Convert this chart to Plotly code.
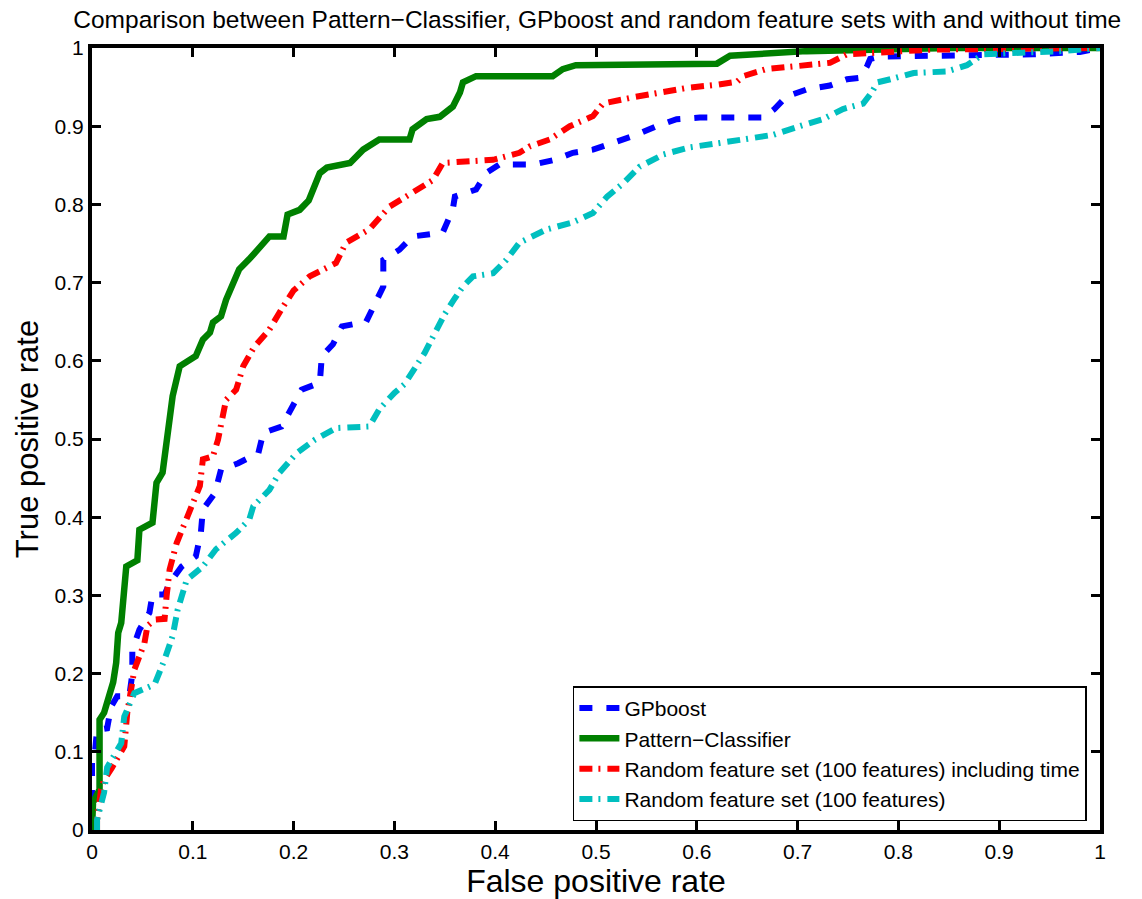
import plotly.graph_objects as go

# ---- data ----
gp_x = [0, 0, 0.003, 0.005, 0.015, 0.019, 0.025, 0.037, 0.04, 0.04, 0.047, 0.057, 0.06, 0.072, 0.077, 0.089,
        0.103, 0.108, 0.11, 0.122, 0.128, 0.145, 0.165, 0.17, 0.188, 0.198, 0.208, 0.226, 0.228, 0.239, 0.248,
        0.272, 0.279, 0.289, 0.289, 0.305, 0.318, 0.348, 0.358, 0.36, 0.381, 0.391, 0.404, 0.438, 0.459, 0.477,
        0.497, 0.52, 0.54, 0.56, 0.58, 0.603, 0.666, 0.677, 0.689, 0.709, 0.732, 0.749, 0.762, 0.769, 0.772,
        0.782, 0.934, 0.98, 1.0]
gp_y = [0, 0.09, 0.10, 0.128, 0.13, 0.158, 0.171, 0.171, 0.2, 0.23, 0.256, 0.278, 0.301, 0.301, 0.316, 0.337,
        0.35, 0.38, 0.41, 0.431, 0.461, 0.469, 0.482, 0.508, 0.516, 0.538, 0.563, 0.572, 0.606, 0.621, 0.644,
        0.65, 0.67, 0.695, 0.729, 0.742, 0.759, 0.764, 0.794, 0.81, 0.819, 0.84, 0.851, 0.851, 0.857, 0.866,
        0.87, 0.88, 0.889, 0.9, 0.909, 0.911, 0.911, 0.922, 0.938, 0.947, 0.952, 0.96, 0.962, 0.977, 0.986,
        0.989, 0.992, 0.995, 1.0]

pc_x = [0, 0.001, 0.0075, 0.0075, 0.012, 0.017, 0.021, 0.024, 0.026, 0.029, 0.032, 0.034, 0.045, 0.047, 0.06,
        0.064, 0.07, 0.074, 0.079, 0.08, 0.087, 0.094, 0.103, 0.11, 0.117, 0.12, 0.128, 0.133, 0.14, 0.146,
        0.156, 0.168, 0.176, 0.19, 0.194, 0.206, 0.215, 0.226, 0.233, 0.256, 0.269, 0.285, 0.315, 0.318, 0.332,
        0.345, 0.358, 0.365, 0.368, 0.381, 0.457, 0.467, 0.48, 0.62, 0.633, 0.709, 0.85, 1.0]
pc_y = [0, 0.035, 0.052, 0.141, 0.15, 0.171, 0.189, 0.214, 0.252, 0.265, 0.312, 0.337, 0.345, 0.384, 0.393,
        0.444, 0.457, 0.496, 0.542, 0.555, 0.593, 0.598, 0.606, 0.627, 0.636, 0.649, 0.657, 0.678, 0.70, 0.717,
        0.73, 0.749, 0.759, 0.759, 0.787, 0.793, 0.805, 0.84, 0.847, 0.853, 0.87, 0.883, 0.883, 0.896, 0.909,
        0.912, 0.925, 0.943, 0.956, 0.964, 0.964, 0.973, 0.978, 0.98, 0.99, 0.996, 1.0, 1.0]

rt_x = [0.005, 0.005, 0.009, 0.012, 0.02, 0.032, 0.035, 0.038, 0.042, 0.052, 0.055, 0.062, 0.072, 0.074, 0.077,
        0.084, 0.094, 0.099, 0.107, 0.11, 0.12, 0.125, 0.13, 0.133, 0.143, 0.15, 0.161, 0.176, 0.188, 0.2,
        0.216, 0.242, 0.252, 0.275, 0.295, 0.318, 0.338, 0.348, 0.398, 0.424, 0.434, 0.454, 0.474, 0.497,
        0.507, 0.537, 0.563, 0.59, 0.62, 0.64, 0.646, 0.669, 0.732, 0.749, 0.834, 1.0]
rt_y = [0, 0.013, 0.052, 0.064, 0.08, 0.107, 0.15, 0.179, 0.205, 0.239, 0.261, 0.269, 0.27, 0.299, 0.333,
        0.367, 0.397, 0.414, 0.44, 0.474, 0.478, 0.499, 0.533, 0.55, 0.563, 0.593, 0.618, 0.64, 0.666, 0.69,
        0.708, 0.725, 0.751, 0.768, 0.797, 0.814, 0.831, 0.853, 0.857, 0.866, 0.874, 0.883, 0.9, 0.913,
        0.929, 0.937, 0.943, 0.949, 0.953, 0.957, 0.964, 0.973, 0.981, 0.992, 0.998, 1.0]

rf_x = [0.005, 0.005, 0.012, 0.015, 0.029, 0.032, 0.042, 0.062, 0.072, 0.08, 0.085, 0.094, 0.11, 0.123, 0.143,
        0.156, 0.16, 0.176, 0.186, 0.203, 0.221, 0.242, 0.275, 0.285, 0.3, 0.31, 0.32, 0.33, 0.34, 0.35, 0.36,
        0.368, 0.378, 0.398, 0.411, 0.424, 0.451, 0.477, 0.497, 0.511, 0.527, 0.543, 0.567, 0.593, 0.62, 0.646,
        0.676, 0.702, 0.725, 0.745, 0.765, 0.774, 0.779, 0.792, 0.815, 0.848, 0.868, 0.884, 0.934, 0.96, 1.0]
rf_y = [0, 0.013, 0.048, 0.08, 0.111, 0.145, 0.175, 0.186, 0.218, 0.248, 0.282, 0.32, 0.337, 0.359, 0.38,
        0.397, 0.414, 0.435, 0.457, 0.482, 0.499, 0.514, 0.516, 0.538, 0.559, 0.57, 0.59, 0.61, 0.635, 0.66,
        0.68, 0.695, 0.708, 0.712, 0.729, 0.751, 0.768, 0.777, 0.789, 0.81, 0.827, 0.848, 0.864, 0.873, 0.878,
        0.883, 0.889, 0.9, 0.909, 0.922, 0.929, 0.944, 0.956, 0.96, 0.968, 0.97, 0.978, 0.992, 0.994, 0.996, 1.0]

tick_vals = [0, 0.1, 0.2, 0.3, 0.4, 0.5, 0.6, 0.7, 0.8, 0.9, 1]
tick_text = ["0", "0.1", "0.2", "0.3", "0.4", "0.5", "0.6", "0.7", "0.8", "0.9", "1"]

FONT = "Liberation Sans, Arial, sans-serif"

fig = go.Figure()
fig.add_trace(go.Scatter(x=gp_x, y=gp_y, mode="lines", name="GPboost",
                         line=dict(color="rgb(0,0,255)", width=6, dash="13px,14px")))
fig.add_trace(go.Scatter(x=pc_x, y=pc_y, mode="lines", name="Pattern\u2212Classifier",
                         line=dict(color="rgb(0,128,0)", width=6.5)))
fig.add_trace(go.Scatter(x=rt_x, y=rt_y, mode="lines",
                         name="Random feature set (100 features) including time",
                         line=dict(color="rgb(255,0,0)", width=6, dash="13px,6px,2px,7px")))
fig.add_trace(go.Scatter(x=rf_x, y=rf_y, mode="lines",
                         name="Random feature set (100 features)",
                         line=dict(color="rgb(0,191,191)", width=6, dash="13px,6px,2px,7px")))

axis_common = dict(range=[0, 1], tickvals=tick_vals, ticktext=tick_text,
                   showgrid=False, zeroline=False, showline=True, linecolor="black",
                   linewidth=4, mirror="ticks", ticks="inside", ticklen=9, tickwidth=3,
                   tickcolor="black", tickfont=dict(family=FONT, size=21, color="black"))

fig.update_layout(
    width=1142, height=899,
    margin=dict(l=92, r=42, t=48, b=69),
    paper_bgcolor="white", plot_bgcolor="white",
    font=dict(family=FONT, color="black"),
    title=dict(text="Comparison between Pattern\u2212Classifier, GPboost and random feature sets with and without time",
               x=0.523, xanchor="center", y=0.978, yanchor="middle", yref="container",
               font=dict(family=FONT, size=24.5, color="black")),
    xaxis=dict(**axis_common,
               title=dict(text="False positive rate", font=dict(family=FONT, size=32), standoff=2)),
    yaxis=dict(**axis_common,
               title=dict(text="True positive rate", font=dict(family=FONT, size=31), standoff=8)),
    legend=dict(x=0.987, y=0.011, xanchor="right", yanchor="bottom",
                bgcolor="white", bordercolor="black", borderwidth=1.5,
                font=dict(family=FONT, size=21, color="black"),
                tracegroupgap=0, itemwidth=40),
    showlegend=True,
)

fig.write_html("out.html")
